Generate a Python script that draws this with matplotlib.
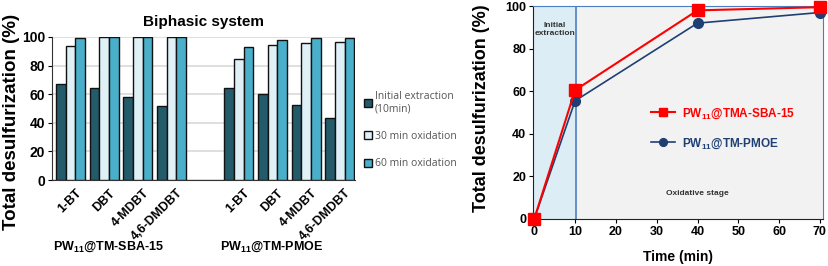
import matplotlib.pyplot as plt
import numpy as np

plt.rcParams["font.family"] = ["Liberation Sans", "DejaVu Sans"]
plt.rcParams["mathtext.fontset"] = "custom"
plt.rcParams["mathtext.rm"] = "Liberation Sans"
plt.rcParams["mathtext.bf"] = "Liberation Sans:bold"

# 左图：双相体系各硫化物的脱硫率
compounds = ["1-BT", "DBT", "4-MDBT", "4,6-DMDBT"]
sba_initial = [67, 64, 58, 52]
sba_30 = [94, 100, 100, 100]
sba_60 = [99.5, 100, 100, 100]
pmoe_initial = [64, 60, 52.5, 43.5]
pmoe_30 = [84.5, 94.5, 95.6, 96.5]
pmoe_60 = [93, 98, 99.5, 99.5]
series_names = ["Initial extraction\n(10min)", "30 min oxidation", "60 min oxidation"]

# 右图：随时间的脱硫率
time = [0, 10, 40, 70]
tma_sba = [0, 60.5, 98, 99.5]
tm_pmoe = [0, 55.5, 92, 97]

fig = plt.figure(figsize=(8.29, 2.66), dpi=100)

# 左图
ax1 = fig.add_axes([0.0627, 0.323, 0.3655, 0.538])
pos = np.array([0, 1, 2, 3, 5, 6, 7, 8])
w = 0.29
initial = sba_initial + pmoe_initial
ox30 = sba_30 + pmoe_30
ox60 = sba_60 + pmoe_60
colors = ["#235b6a", "#dff0f6", "#4aafca"]
for k, vals in enumerate([initial, ox30, ox60]):
    ax1.bar(pos + (k - 1) * w, vals, w, color=colors[k], edgecolor="#111111",
            linewidth=1.0, label=series_names[k], zorder=3)
ax1.set_xlim(-0.55, 8.45)
ax1.set_ylim(0, 100)
ax1.set_yticks([0, 20, 40, 60, 80, 100])
ax1.set_xticks(pos + 0.15)
ax1.set_xticklabels(compounds * 2, rotation=45, ha="right", rotation_mode="anchor",
                    fontsize=9, fontweight="bold")
for lab in ax1.get_yticklabels():
    lab.set_fontweight("bold")
    lab.set_fontsize(10)
ax1.tick_params(axis="x", length=0, pad=5)
ax1.tick_params(axis="y", length=3, pad=2)
ax1.grid(axis="y", color="#d9d9d9", linewidth=1.2, zorder=0)
for s in ["top", "right"]:
    ax1.spines[s].set_visible(False)
ax1.spines["left"].set_color("#333333")
ax1.spines["bottom"].set_color("#333333")
ax1.set_title("Biphasic system", fontsize=11, fontweight="bold", pad=8)
fig.text(12 / 829, 1 - 122 / 266, "Total desulfurization (%)", rotation=90, ha="center",
         va="center", fontsize=13.5, fontweight="bold")
leg1 = ax1.legend(loc="center left", bbox_to_anchor=(1.0, 0.35), frameon=False,
                  handlelength=0.7, handleheight=0.8, handletextpad=0.3,
                  labelspacing=1.6, prop={"family": "Open Sans", "size": 7.5})
for t in leg1.get_texts():
    t.set_color("#555555")
fig.text(108 / 829, 1 - 247 / 266, r"PW$_{\mathbf{11}}$@TM-SBA-15", ha="center", va="center",
         fontsize=9, fontweight="bold")
fig.text(272 / 829, 1 - 247 / 266, r"PW$_{\mathbf{11}}$@TM-PMOE", ha="center", va="center",
         fontsize=9, fontweight="bold")

# 右图
ax2 = fig.add_axes([0.643, 0.177, 0.350, 0.800])
ax2.set_xlim(-0.3, 70.8)
ax2.set_ylim(0, 100)
ax2.axvspan(-0.3, 10.3, color="#dcedf5", zorder=0)
ax2.axvspan(10.3, 70.8, color="#f2f2f2", zorder=0)
ax2.axvline(10.3, color="#4a7fc1", linewidth=1.2, zorder=1)
ax2.plot(time, tma_sba, color="#ff0000", marker="s", markersize=8, linewidth=1.5,
         label=r"PW$_{\mathbf{11}}$@TMA-SBA-15", zorder=4, clip_on=False)
ax2.plot(time, tm_pmoe, color="#1f3f73", marker="o", markersize=7, linewidth=1.2,
         label=r"PW$_{\mathbf{11}}$@TM-PMOE", zorder=3, clip_on=False)
for s in ax2.spines.values():
    s.set_color("#4a7fc1")
ax2.spines["left"].set_color("#222222")
ax2.spines["bottom"].set_color("#222222")
ax2.set_xticks([0, 10, 20, 30, 40, 50, 60, 70])
ax2.set_yticks([0, 20, 40, 60, 80, 100])
for lab in ax2.get_xticklabels() + ax2.get_yticklabels():
    lab.set_fontweight("bold")
    lab.set_fontsize(9)
ax2.tick_params(length=3, pad=2)
ax2.set_xlabel("Time (min)", fontsize=10, fontweight="bold", labelpad=9)
fig.text(482 / 829, 1 - 108 / 266, "Total desulfurization (%)", rotation=90, ha="center",
         va="center", fontsize=13, fontweight="bold")
ax2.text(5, 89, "Initial\nextraction", ha="center", va="center", fontsize=6,
         fontweight="bold", color="#333333")
ax2.text(40, 12, "Oxidative stage", ha="center", va="center", fontsize=6,
         fontweight="bold", color="#333333")
leg2 = ax2.legend(loc="center left", bbox_to_anchor=(0.37, 0.425), frameon=False,
                  fontsize=8.5, handlelength=2.0, handletextpad=0.6, labelspacing=1.3,
                  markerscale=0.8)
leg2.get_texts()[0].set_color("#ff0000")
leg2.get_texts()[1].set_color("#1f3f73")
for t in leg2.get_texts():
    t.set_fontweight("bold")

fig.savefig("out.png", dpi=100)
